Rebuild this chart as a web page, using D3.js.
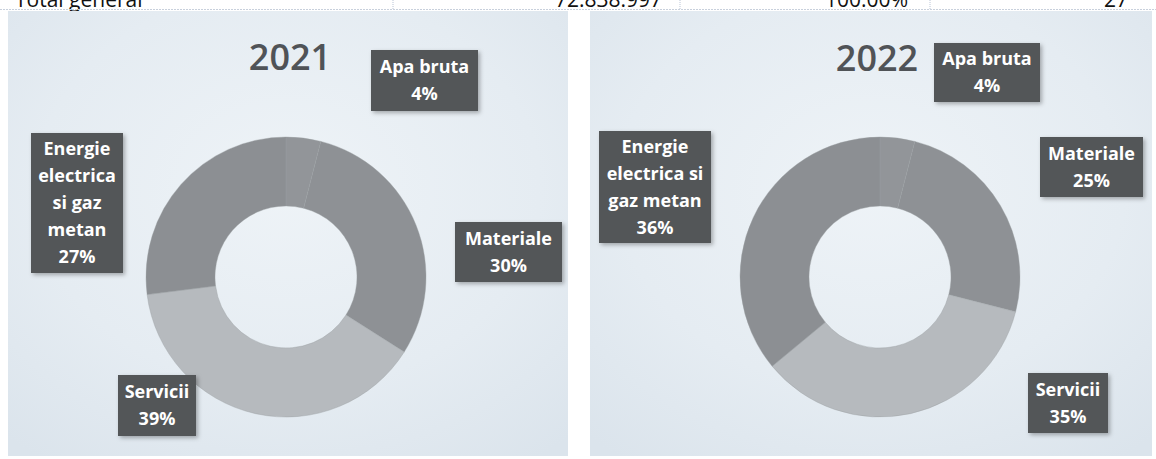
<!DOCTYPE html>
<html>
<head>
<meta charset="utf-8">
<script src="https://cdn.jsdelivr.net/npm/d3@7"></script>
<style>
  html, body { margin: 0; padding: 0; background: #ffffff; }
  svg { display: block; }
</style>
</head>
<body>
<svg id="chart" width="1156" height="459"></svg>
<script>
// ---- data ----
const categories = ["Apa bruta", "Materiale", "Servicii", "Energie electrica si gaz metan"];
const years = ["2021", "2022"];
const values2021 = [4, 30, 39, 27];
const values2022 = [4, 25, 35, 36];
// how each category name wraps inside its label box, per year
const labelLines2021 = [["Apa bruta"], ["Materiale"], ["Servicii"], ["Energie", "electrica", "si gaz", "metan"]];
const labelLines2022 = [["Apa bruta"], ["Materiale"], ["Servicii"], ["Energie", "electrica si", "gaz metan"]];
// cut-off table row above the charts
const tableRow = ["Total general", "72.838.997", "100.00%", "27"];

// ---- layout (positions / styles) ----
const W = 1156, H = 459;
const panels = [
  { x: 8, y: 11, w: 560, h: 445, cx: 286, cy: 277, title: { x: 290, y: 70 },
    boxes: [ {x:371,y:50,w:107,h:61}, {x:455,y:222,w:107,h:60}, {x:118,y:375,w:78,h:61}, {x:31,y:133,w:92,h:140} ] },
  { x: 590, y: 11, w: 562, h: 445, cx: 880, cy: 277, title: { x: 877, y: 71 },
    boxes: [ {x:934,y:43,w:106,h:59}, {x:1040,y:137,w:103,h:60}, {x:1028,y:373,w:80,h:60}, {x:599,y:131,w:112,h:112} ] }
];
const outerR = 140, innerR = 71;
const segColors = ["#929599", "#8e9195", "#b6babe", "#8c8f93"];

const svg = d3.select("#chart");
const defs = svg.append("defs");

const bg = defs.append("radialGradient").attr("id", "bgGrad")
  .attr("cx", "50%").attr("cy", "40%").attr("r", "75%");
bg.append("stop").attr("offset", "0%").attr("stop-color", "#eef3f7");
bg.append("stop").attr("offset", "60%").attr("stop-color", "#e5ecf2");
bg.append("stop").attr("offset", "100%").attr("stop-color", "#dbe4ec");

const sh = defs.append("filter").attr("id", "shadow")
  .attr("x", "-20%").attr("y", "-20%").attr("width", "150%").attr("height", "150%");
sh.append("feDropShadow").attr("dx", 2).attr("dy", 2).attr("stdDeviation", 2)
  .attr("flood-color", "#000").attr("flood-opacity", 0.3);

// ---- cut-off table row ----
const rowG = svg.append("g");
const rowX = [15, 662, 908, 1104];
const rowAnchor = ["start", "end", "end", "start"];
tableRow.forEach((t, i) => {
  rowG.append("text").attr("x", rowX[i]).attr("y", 7)
    .attr("text-anchor", rowAnchor[i])
    .attr("font-family", "Open Sans, sans-serif").attr("font-size", 21)
    .attr("fill", "#111").text(t);
});
[393, 680, 930].forEach(x => {
  rowG.append("line").attr("x1", x).attr("x2", x).attr("y1", 0).attr("y2", 9)
    .attr("stroke", "#b9c4d6").attr("stroke-width", 1).attr("stroke-dasharray", "1,1");
});
rowG.append("line").attr("x1", 0).attr("x2", W).attr("y1", 9.5).attr("y2", 9.5)
  .attr("stroke", "#c8d0dc").attr("stroke-dasharray", "2,1");

// ---- donuts ----
const pie = d3.pie().sort(null).value(d => d);
const arc = d3.arc().innerRadius(innerR).outerRadius(outerR);

[values2021, values2022].forEach((vals, k) => {
  const p = panels[k];
  const lines = k === 0 ? labelLines2021 : labelLines2022;
  const g = svg.append("g");
  g.append("rect").attr("x", p.x).attr("y", p.y).attr("width", p.w).attr("height", p.h)
    .attr("fill", "url(#bgGrad)");

  const dg = g.append("g").attr("transform", `translate(${p.cx},${p.cy})`);
  dg.selectAll("path").data(pie(vals)).join("path")
    .attr("d", arc)
    .attr("fill", (d, i) => segColors[i])
    .attr("stroke", "#9a9ea2").attr("stroke-width", 0.4);

  g.append("text").attr("x", p.title.x).attr("y", p.title.y)
    .attr("text-anchor", "middle")
    .attr("font-family", "Open Sans, sans-serif").attr("font-size", 36).attr("font-weight", 600)
    .attr("fill", "#505357").text(years[k]);

  vals.forEach((v, i) => {
    const b = p.boxes[i];
    const txt = lines[i].concat([v + "%"]);
    g.append("rect").attr("x", b.x).attr("y", b.y).attr("width", b.w).attr("height", b.h)
      .attr("fill", "#535659").attr("filter", "url(#shadow)");
    const lh = 27;
    const top = b.y + b.h / 2 - (txt.length - 1) * lh / 2;
    txt.forEach((t, j) => {
      g.append("text").attr("x", b.x + b.w / 2).attr("y", top + j * lh)
        .attr("dy", "0.36em").attr("text-anchor", "middle")
        .attr("font-family", "Open Sans, sans-serif").attr("font-weight", "bold")
        .attr("font-size", 18).attr("fill", "#ffffff").text(t);
    });
  });
});
</script>
</body>
</html>
